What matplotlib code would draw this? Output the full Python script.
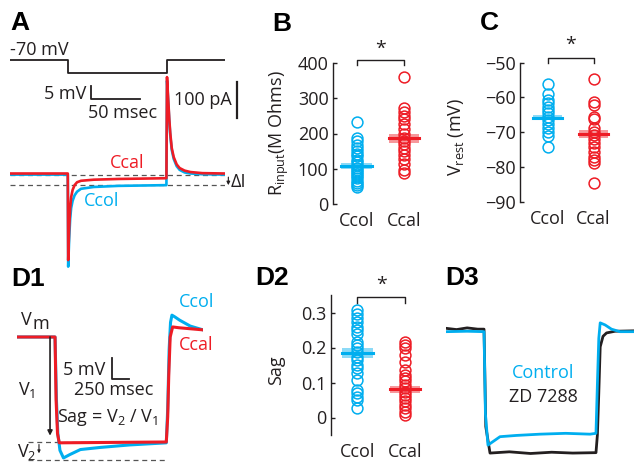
import matplotlib
matplotlib.use("Agg")
import matplotlib.pyplot as plt

plt.rcParams['font.family'] = ['Open Sans', 'DejaVu Sans']
plt.rcParams['axes.unicode_minus'] = True

W, H = 634, 466
BLUE = '#00AEEF'
RED = '#EE1C25'
INK = '#231F20'
FS = 13

# ---------------- data ----------------
# A: voltage command (ms, mV)
cmd_t = [0, 59, 59, 159, 159, 218]
cmd_v = [-70, -70, -75, -75, -70, -70]

# A: current responses (ms, pA)
a_t = [0, 58.6, 59, 60, 61, 62, 63.5, 65.5, 68, 72, 85, 110, 158.6,
       159.2, 160.5, 161.5, 162.5, 164, 166, 169, 172, 177, 183, 195, 218]
a_ccal = [0, 0, -238, -150, -95, -65, -45, -32, -24, -20, -17, -15, -13,
          265, 200, 150, 111, 70, 45, 25, 15, 8, 4, 1, 0]
a_ccol = [-3, -3, -256, -180, -125, -95, -75, -60, -50, -42, -37, -34, -32,
          255, 195, 145, 105, 65, 40, 20, 10, 3, 0, -2, -3]

# B: input resistance (M Ohms)
rin_ccol = [234, 188, 178, 168, 160, 150, 142, 135, 125, 118, 110, 103, 97,
            90, 84, 78, 72, 66, 60, 53, 47]
rin_ccal = [362, 272, 260, 250, 241, 226, 212, 198, 188, 179, 169, 159, 150,
            140, 126, 112, 97, 88]
rin_mean = [108, 186]
rin_sem = [8, 12]

# C: resting potential (mV)
vr_ccol = [-56.2, -59.1, -60.6, -61.7, -62.7, -63.6, -64.6, -65.5, -66.5,
           -67.6, -68.9, -69.9, -71.1, -74.2]
vr_ccal = [-54.7, -61.2, -62.2, -65.5, -66.3, -68.9, -69.9, -70.8, -72.1,
           -73.2, -74.2, -75.6, -77.0, -78.0, -79.0, -84.7]
vr_mean = [-65.8, -70.5]
vr_sem = [0.7, 1.2]

# D1: current-clamp sag traces (ms, mV)
d1_t_col = [0, 540, 560, 580, 610, 660, 750, 900, 1180, 1600, 2120,
            2140, 2160, 2180, 2200, 2240, 2310, 2460, 2640]
d1_v_col = [-65, -65, -80, -88, -92, -93.8, -93, -91.8, -91.3, -90.7, -90.2,
            -82, -68, -61.5, -59.8, -60.2, -61, -62.4, -63.3]
d1_t_cal = [0, 540, 555, 575, 600, 2120, 2140, 2155, 2175, 2210, 2300, 2640]
d1_v_cal = [-65, -65, -80, -88, -90.2, -90.0, -84, -74, -65, -62.6, -62.8, -63.3]

# D2: sag ratio
sag_ccol = [0.307, 0.297, 0.283, 0.273, 0.259, 0.25, 0.24, 0.217, 0.207, 0.198,
            0.188, 0.174, 0.164, 0.15, 0.141, 0.126, 0.107, 0.079, 0.069, 0.06,
            0.05, 0.027]
sag_ccal = [0.217, 0.207, 0.198, 0.179, 0.16, 0.136, 0.122, 0.112, 0.103, 0.093,
            0.084, 0.074, 0.065, 0.055, 0.046, 0.036, 0.027, 0.017, 0.008]
sag_mean = [0.185, 0.081]
sag_sem = [0.014, 0.010]

# D3: control vs ZD 7288 (ms, mV)
d3_t_ctl = [0, 300, 540, 560, 596, 767, 1000, 1335, 1700, 2045, 2130,
            2150, 2170, 2190, 2260, 2350, 2470, 2670]
d3_v_ctl = [-65.4, -65.3, -65.4, -85, -92.4, -90.4, -90.1, -89.8, -89.6, -89.8, -89.6,
            -78, -67, -63.3, -63.8, -64.8, -65.4, -65.4]
d3_t_zd = [0, 150, 300, 450, 540, 565, 625, 900, 1200, 1500, 1800, 2130,
           2150, 2170, 2190, 2230, 2280, 2400, 2670]
d3_v_zd = [-64.6, -64.9, -64.5, -64.8, -64.8, -88, -94.3, -94.0, -94.4, -94.1, -94.3, -94.2,
           -90, -80, -69, -66.5, -65.7, -65.3, -65.2]

groups = ['Ccol', 'Ccal']

fig = plt.figure(figsize=(W / 100, H / 100), dpi=100)


def px_axes(x0, y0, x1, y1):
    ax = fig.add_axes([x0 / W, 1 - y1 / H, (x1 - x0) / W, (y1 - y0) / H])
    ax.patch.set_visible(False)
    return ax


def ptxt(x, y, s, **kw):
    kw.setdefault('fontsize', FS)
    kw.setdefault('color', INK)
    fig.text(x / W, 1 - y / H, s, **kw)


def dot_panel(ax, a, b, mean, sem, ylim, ticks, labels, spine_full=False):
    for i, (vals, col) in enumerate([(a, BLUE), (b, RED)]):
        x = i + 1
        ax.plot([x] * len(vals), vals, 'o', mfc='none', mec=col, ms=7.8, mew=1.1,
                clip_on=False, zorder=2)
        ax.fill_between([x - 0.32, x + 0.32], mean[i] - sem[i], mean[i] + sem[i],
                        color=col, alpha=0.45, lw=0, zorder=3)
        ax.plot([x - 0.32, x + 0.32], [mean[i], mean[i]], color=col, lw=2.2, zorder=4)
    ax.set_ylim(*ylim)
    ax.set_yticks(ticks, labels)
    for s in ['top', 'right', 'bottom']:
        ax.spines[s].set_visible(False)
    ax.spines['left'].set_color(INK)
    ax.spines['left'].set_linewidth(1.0)
    if not spine_full:
        ax.spines['left'].set_bounds(ticks[0], ticks[-1])
    ax.tick_params(axis='y', direction='in', length=3, width=1, labelsize=FS,
                   pad=3, colors=INK)
    ax.set_xticks([1, 2], groups)
    ax.tick_params(axis='x', length=0, labelsize=FS, pad=6, colors=INK)


def bracket(ax, y_line, y_leg, y_star):
    ax.plot([1, 1, 2, 2], [y_leg, y_line, y_line, y_leg], color=INK, lw=1.0,
            clip_on=False)
    ax.text(1.5, y_star, '*', ha='center', va='center', fontsize=14, color=INK)


# ---------------- A ----------------
axv = px_axes(10, 40, 225, 120)
axv.axis('off')
axv.set_xlim(0, 218)
axv.set_ylim(-92.56, -62.48)
axv.plot(cmd_t, cmd_v, color=INK, lw=1.3)
# scale bars: 5 mV, 50 msec
axv.plot([81.8, 81.8, 131.8], [-79.8, -84.8, -84.8], color=INK, lw=1.3, clip_on=False)

axa = px_axes(10, 60, 225, 275)
axa.axis('off')
axa.set_xlim(0, 218)
axa.set_ylim(-279, 312)
axa.axhline(-4, color='#555555', lw=0.9, ls=(0, (4, 3)))
axa.axhline(-32, color='#555555', lw=0.9, ls=(0, (4, 3)))
axa.plot(a_t, a_ccol, color=BLUE, lw=1.9)
axa.plot(a_t, a_ccal, color=RED, lw=1.9)
axa.plot([229.9, 229.9], [151.8, 251.8], color=INK, lw=1.6, clip_on=False)
axa.annotate('', xy=(221.4, -32), xytext=(221.4, -10),
             arrowprops=dict(arrowstyle='-|>', color=INK, lw=0.8,
                             mutation_scale=5, shrinkA=0, shrinkB=0),
             annotation_clip=False)

ptxt(10, 50, '-70 mV', ha='left', va='center')
ptxt(86, 94, '5 mV', ha='right', va='center')
ptxt(123, 113, '50 msec', ha='center', va='center')
ptxt(232, 100, '100 pA', ha='right', va='center')
ptxt(127, 163, 'Ccal', ha='center', va='center', color=RED)
ptxt(102, 201, 'Ccol', ha='center', va='center', color=BLUE)
ptxt(231, 182, 'ΔI', ha='left', va='center')

# ---------------- B ----------------
axb = px_axes(332.7, 63.3, 430.3, 203.7)
axb.set_xlim(0.5, 2.55)
dot_panel(axb, rin_ccol, rin_ccal, rin_mean, rin_sem, (0, 400),
          [0, 100, 200, 300, 400], ['0', '100', '200', '300', '400'])
bracket(axb, 409, 394, 440)
ptxt(279, 133, r'R$_\mathregular{input}$(M Ohms)', rotation=90, ha='center', va='center')

# ---------------- C ----------------
axc = px_axes(520, 62.7, 616.6, 201.7)
axc.set_xlim(0.4, 2.5)
dot_panel(axc, vr_ccol, vr_ccal, vr_mean, vr_sem, (-90, -50),
          [-90, -80, -70, -60, -50], ['\u221290', '\u221280', '\u221270', '\u221260', '\u221250'])
bracket(axc, -48.7, -50.2, -45.0)
ptxt(456, 137, r'V$_\mathregular{rest}$ (mV)', rotation=90, ha='center', va='center')

# ---------------- D1 ----------------
axd1 = px_axes(17, 300, 203, 470)
axd1.axis('off')
axd1.set_xlim(0, 2641)
axd1.set_ylim(-96.67, -56.19)
axd1.plot([156, 2130], [-90.1, -90.1], color='#555555', lw=0.9, ls=(0, (4, 3)), clip_on=False)
axd1.plot([156, 2130], [-94.3, -94.3], color='#555555', lw=0.9, ls=(0, (4, 3)), clip_on=False)
axd1.plot(d1_t_col, d1_v_col, color=BLUE, lw=2.2)
axd1.plot(d1_t_cal, d1_v_cal, color=RED, lw=2.2)
axd1.annotate('', xy=(469, -88.5), xytext=(469, -65),
              arrowprops=dict(arrowstyle='-|>', color=INK, lw=1.2,
                              mutation_scale=7, shrinkA=0, shrinkB=0))
axd1.annotate('', xy=(312, -92.7), xytext=(312, -90.6),
              arrowprops=dict(arrowstyle='-|>', color=INK, lw=0.8,
                              mutation_scale=4, shrinkA=0, shrinkB=0))
axd1.plot([1345, 1345, 1595], [-70, -75, -75], color=INK, lw=1.3)

ptxt(197, 302, 'Ccol', ha='center', va='center', color=BLUE)
ptxt(196, 345, 'Ccal', ha='center', va='center', color=RED)
ptxt(32, 320, 'V', ha='right', va='center')
ptxt(32, 324, 'm', ha='left', va='center')
ptxt(27, 390, r'V$_\mathregular{1}$', ha='center', va='center')
ptxt(27, 452, r'V$_\mathregular{2}$', ha='center', va='center')
ptxt(105, 370, '5 mV', ha='right', va='center')
ptxt(114, 390, '250 msec', ha='center', va='center')
ptxt(108, 417, r'Sag = V$_\mathregular{2}$ / V$_\mathregular{1}$', ha='center', va='center')

# ---------------- D2 ----------------
axd2 = px_axes(331, 295, 428.8, 435)
axd2.set_xlim(0.45, 2.5)
dot_panel(axd2, sag_ccol, sag_ccal, sag_mean, sag_sem, (-0.05, 0.35),
          [0, 0.1, 0.2, 0.3], ['0', '0.1', '0.2', '0.3'], spine_full=True)
bracket(axd2, 0.344, 0.326, 0.378)
ptxt(276, 370, 'Sag', rotation=90, ha='center', va='center')

# ---------------- D3 ----------------
axd3 = px_axes(446, 300, 634, 470)
axd3.axis('off')
axd3.set_xlim(0, 2670)
axd3.set_ylim(-98.33, -57.86)
axd3.plot(d3_t_zd, d3_v_zd, color=INK, lw=2.0)
axd3.plot(d3_t_ctl, d3_v_ctl, color=BLUE, lw=2.0)
ptxt(543, 373, 'Control', ha='center', va='center', color=BLUE)
ptxt(543, 397, 'ZD 7288', ha='center', va='center')

# panel letters
for x, y, s in [(10, 30, 'A'), (272, 31, 'B'), (480, 30, 'C'),
                (11, 286, 'D1'), (255, 285, 'D2'), (445, 285, 'D3')]:
    ptxt(x, y, s, ha='left', va='baseline', fontsize=19, fontweight='bold',
         family='Liberation Sans', color='black')

fig.savefig('out.png', dpi=100)
